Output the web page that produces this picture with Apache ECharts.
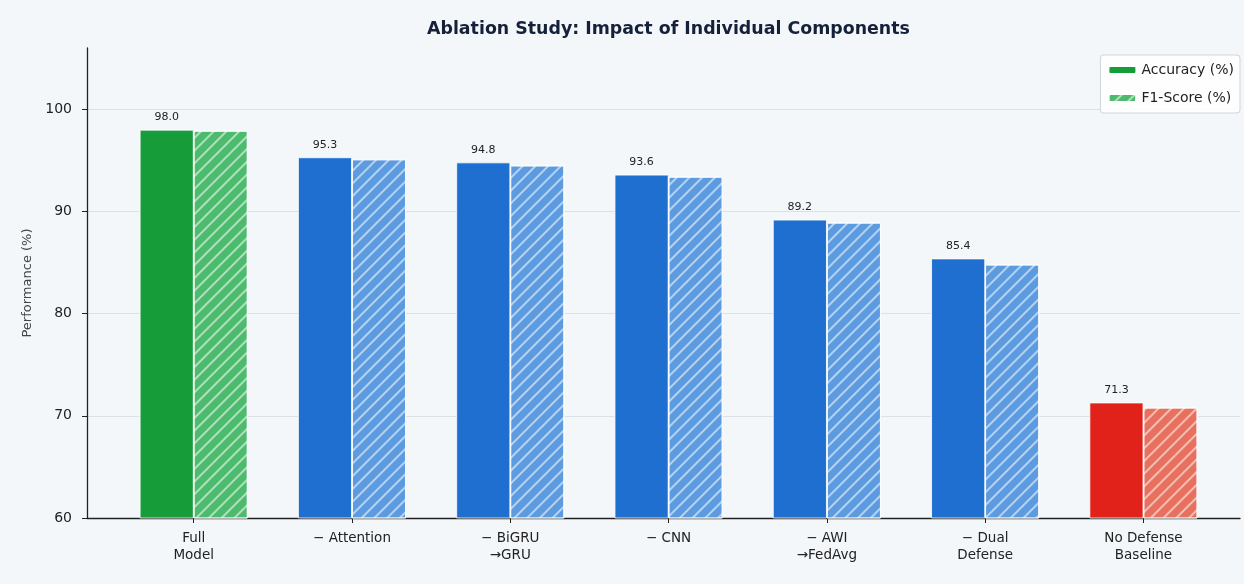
<!DOCTYPE html>
<html>
<head>
<meta charset="utf-8">
<script src="https://cdn.jsdelivr.net/npm/echarts@6/dist/echarts.min.js"></script>
<style>
  html, body { margin: 0; padding: 0; background: #f4f7fa; }
  #chart { width: 1244px; height: 584px; }
</style>
</head>
<body>
<div id="chart"></div>
<script>
// Ablation variants, in plotting order
const categories = [
  'Full\nModel',
  '\u2212 Attention',
  '\u2212 BiGRU\n\u2192GRU',
  '\u2212 CNN',
  '\u2212 AWI\n\u2192FedAvg',
  '\u2212 Dual\nDefense',
  'No Defense\nBaseline'
];
const accuracy = [98.0, 95.3, 94.8, 93.6, 89.2, 85.4, 71.3];
const f1Score  = [97.9, 95.1, 94.5, 93.4, 88.9, 84.8, 70.8];
const yTicks = [60, 70, 80, 90, 100];

// Bar colours per group: full model, ablated variants, baseline
const accColors = ['#179c3a', '#1f6fd0', '#1f6fd0', '#1f6fd0', '#1f6fd0', '#1f6fd0', '#e0221a'];
const f1Colors  = ['#4dbb6e', '#5d9be0', '#5d9be0', '#5d9be0', '#5d9be0', '#5d9be0', '#e8705f'];

const hatch = {
  symbol: 'rect',
  symbolSize: 1,
  color: 'rgba(255,255,255,0.55)',
  backgroundColor: null,
  dashArrayX: [1, 0],
  dashArrayY: [1.6, 7],
  rotation: -Math.PI / 4
};

const font = 'DejaVu Sans';
const chart = echarts.init(document.getElementById('chart'), null, { renderer: 'canvas' });

chart.setOption({
  backgroundColor: '#f4f7fa',
  animation: false,
  textStyle: { fontFamily: font },
  title: {
    text: 'Ablation Study: Impact of Individual Components',
    left: 422,
    top: 16,
    textStyle: { fontFamily: font, fontSize: 17.4, fontWeight: 'bold', color: '#15203a' }
  },
  legend: {
    orient: 'vertical',
    right: 4,
    top: 55,
    itemWidth: 28,
    itemHeight: 8,
    itemGap: 14,
    padding: [8, 6, 8, 7],
    backgroundColor: 'rgba(255,255,255,0.85)',
    borderColor: '#d0d4d8',
    borderWidth: 1,
    borderRadius: 3,
    textStyle: { fontFamily: font, fontSize: 14, color: '#222' },
    data: ['Accuracy (%)', 'F1-Score (%)']
  },
  grid: { left: 87, right: 4, top: 48, bottom: 66, containLabel: false },
  xAxis: {
    type: 'value',
    min: -0.674,
    max: 6.61,
    axisLine: { show: true, onZero: false, lineStyle: { color: '#222', width: 1.3 } },
    axisTick: { show: true, length: 5, lineStyle: { color: '#222' }, customValues: categories.map((c, i) => i) },
    axisLabel: {
      customValues: categories.map((c, i) => i),
      formatter: v => categories[Math.round(v)] || '',
      fontFamily: font, fontSize: 13.5, color: '#222', lineHeight: 17, margin: 12
    },
    splitLine: { show: false }
  },
  yAxis: {
    type: 'value',
    min: 60,
    max: 106,
    interval: 10,
    name: 'Performance (%)',
    nameLocation: 'middle',
    nameGap: 52,
    nameTextStyle: { fontFamily: font, fontSize: 13, color: '#444' },
    axisLine: { show: true, onZero: false, lineStyle: { color: '#222', width: 1.3 } },
    axisTick: { show: true, length: 5, lineStyle: { color: '#222' }, customValues: yTicks },
    axisLabel: { customValues: yTicks, fontFamily: font, fontSize: 14, color: '#222', margin: 15 },
    splitLine: { show: true, lineStyle: { color: '#dde1e5', width: 1 } }
  },
  series: [
    {
      name: 'Accuracy (%)',
      type: 'bar',
      barWidth: 54,
      barGap: '0%',
      itemStyle: { color: accColors[0], borderColor: '#ffffff', borderWidth: 0.8 },
      label: {
        show: true,
        position: 'top',
        distance: 7,
        formatter: p => p.value[1].toFixed(1),
        fontFamily: font, fontSize: 11, color: '#222'
      },
      data: accuracy.map((v, i) => ({ value: [i, v], itemStyle: { color: accColors[i] } }))
    },
    {
      name: 'F1-Score (%)',
      type: 'bar',
      barWidth: 54,
      barGap: '0%',
      itemStyle: { color: f1Colors[0], borderColor: '#ffffff', borderWidth: 0.8, decal: hatch },
      data: f1Score.map((v, i) => ({ value: [i, v], itemStyle: { color: f1Colors[i], decal: hatch } }))
    }
  ]
});
</script>
</body>
</html>
